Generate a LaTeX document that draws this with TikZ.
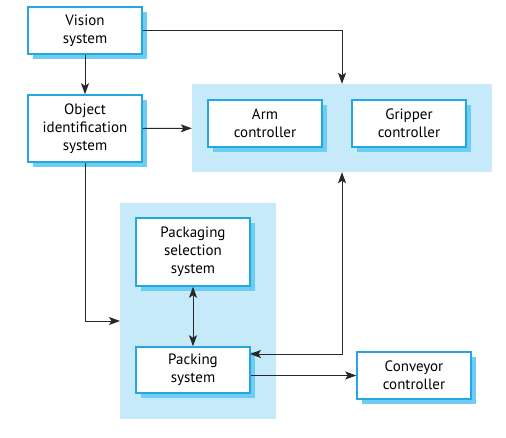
\documentclass[tikz,border=0pt]{standalone}
\usepackage{fontspec}
\setmainfont{PT Sans}
\usetikzlibrary{arrows.meta,shadows}
\definecolor{boxline}{RGB}{38,166,222}
\definecolor{boxshade}{RGB}{110,205,245}
\definecolor{grpfill}{RGB}{198,234,250}
\definecolor{linkgray}{RGB}{40,40,40}
\begin{document}
\begin{tikzpicture}[x=1pt,y=-1pt, >={Stealth[length=11pt,width=8pt,inset=2.5pt]},
  box/.style={draw=boxline, line width=1.5pt, fill=white, minimum width=114pt, inner sep=0pt, align=center,
    font=\fontsize{15}{18}\selectfont, drop shadow={shadow xshift=5pt, shadow yshift=-5pt, fill=boxshade, opacity=1}},
  grp/.style={fill=grpfill, inner sep=0pt},
  link/.style={draw=linkgray, line width=.9pt}]
\useasboundingbox (0,0) rectangle (506,438);
% shaded groups
\node[grp, minimum width=300pt, minimum height=88pt] (ctl) at (342,128) {};
\node[grp, minimum width=156pt, minimum height=216pt] (pkg) at (198,311) {};
\path (85,30.5) node[box, minimum height=47pt] (vis) {Vision\\system}
  (85,128.5) node[box, minimum height=67pt] (obj) {Object\\identification\\system}
  (265,123.5) node[box, minimum height=47pt] (arm) {Arm\\controller}
  (409,123.5) node[box, minimum height=47pt] (grip) {Gripper\\controller}
  (193,252) node[box, minimum height=68pt] (sel) {Packaging\\selection\\system}
  (193,370) node[box, minimum height=46pt] (pck) {Packing\\system}
  (414,375.5) node[box, minimum height=47pt] (conv) {Conveyor\\controller};
\coordinate (pkgin) at (120,321);
\coordinate (pckin) at (250,354);
\draw[link,->] (vis) -- (obj);
\draw[link,->] (vis) -| (ctl);
\draw[link,->] (obj) -- (ctl);
\draw[link,->] (obj) |- (pkgin);
\draw[link,<->] (sel) -- (pck);
\draw[link,<->] (ctl) |- (pckin);
\draw[link,->] (pck.east |- conv) -- (conv);
\end{tikzpicture}
\end{document}
